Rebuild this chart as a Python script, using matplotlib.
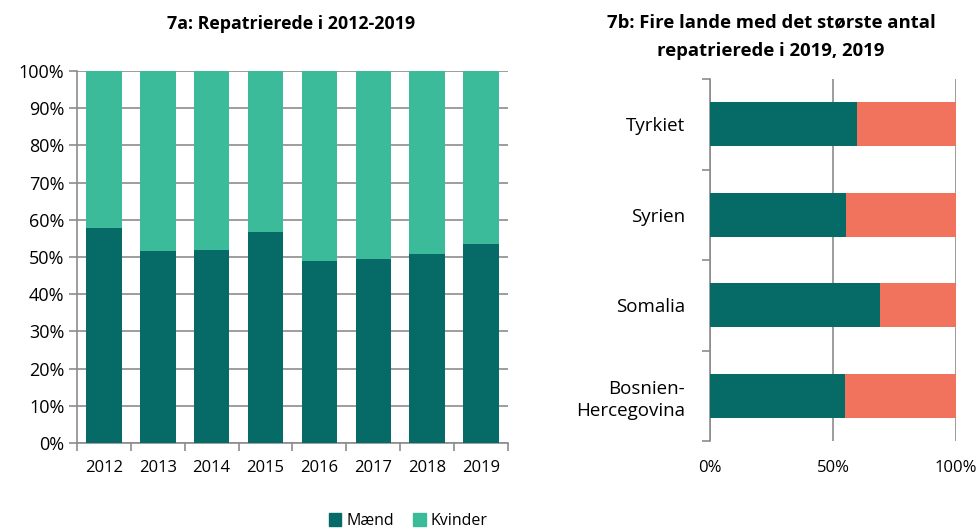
import matplotlib.pyplot as plt
from matplotlib.patches import Patch

plt.rcParams['font.family'] = ['Open Sans', 'DejaVu Sans']

years = ['2012', '2013', '2014', '2015', '2016', '2017', '2018', '2019']
maend_7a = [57.9, 51.6, 51.8, 56.7, 48.9, 49.4, 50.8, 53.5]
kvinder_7a = [100 - v for v in maend_7a]

lande = ['Bosnien-\nHercegovina', 'Somalia', 'Syrien', 'Tyrkiet']
maend_7b = [54.9, 69.1, 55.3, 59.8]
kvinder_7b = [100 - v for v in maend_7b]

dark = '#066b67'
light = '#3cbb9b'
salmon = '#f2735d'
grid = '#8c8c8c'

fig = plt.figure(figsize=(9.78, 5.29), dpi=100)

# 7a
ax = fig.add_axes([77 / 978, 1 - 443 / 529, 431 / 978, 372 / 529])
x = range(len(years))
ax.bar(x, maend_7a, width=0.66, color=dark, zorder=3)
ax.bar(x, kvinder_7a, bottom=maend_7a, width=0.66, color=light, zorder=3)
ax.set_xlim(-0.5, len(years) - 0.5)
ax.set_ylim(0, 100)
ax.set_yticks(range(0, 101, 10))
ax.set_yticklabels([f'{v}%' for v in range(0, 101, 10)], fontsize=13)
ax.set_xticks([i - 0.5 for i in range(len(years) + 1)])
ax.set_xticklabels([])
ax.set_xticks(list(x), minor=True)
ax.set_xticklabels(years, minor=True, fontsize=12)
ax.tick_params(axis='x', which='minor', length=0, pad=12)
ax.tick_params(axis='x', which='major', length=6, color=grid, width=1.2)
ax.tick_params(axis='y', length=6, color=grid, width=1.2, pad=3)
ax.grid(axis='y', color=grid, linewidth=1.2, zorder=0)
for s in ['top', 'right']:
    ax.spines[s].set_visible(False)
for s in ['left', 'bottom']:
    ax.spines[s].set_color(grid)
    ax.spines[s].set_linewidth(1.2)
fig.text(291 / 978, 1 - 24 / 529, '7a: Repatrierede i 2012-2019', ha='center', va='center',
         fontsize=12.8, fontweight='bold')

# 7b
bx = fig.add_axes([710 / 978, 1 - 441 / 529, 246 / 978, 362 / 529])
y = range(len(lande))
bx.barh(y, maend_7b, height=0.49, color=dark, zorder=3)
bx.barh(y, kvinder_7b, left=maend_7b, height=0.49, color=salmon, zorder=3)
bx.set_xlim(0, 100)
bx.set_ylim(-0.5, len(lande) - 0.5)
bx.set_xticks([0, 50, 100])
bx.set_xticklabels(['0%', '50%', '100%'], fontsize=12)
bx.tick_params(axis='x', length=0, pad=14)
bx.set_yticks([i - 0.5 for i in range(len(lande) + 1)])
bx.set_yticklabels([])
bx.set_yticks(list(y), minor=True)
bx.set_yticklabels(lande, minor=True, fontsize=13.5, ha='right', linespacing=1.3)
bx.tick_params(axis='y', which='minor', length=0, pad=18)
bx.tick_params(axis='y', which='major', length=6, color=grid, width=1.2)
bx.grid(axis='x', color=grid, linewidth=1.2, zorder=0)
for s in ['top', 'right', 'bottom']:
    bx.spines[s].set_visible(False)
bx.spines['left'].set_color(grid)
bx.spines['left'].set_linewidth(1.2)
fig.text(771 / 978, 1 - 23 / 529, '7b: Fire lande med det største antal', ha='center', va='center',
         fontsize=13.3, fontweight='bold')
fig.text(771 / 978, 1 - 51 / 529, 'repatrierede i 2019, 2019', ha='center', va='center',
         fontsize=13.3, fontweight='bold')

handles = [Patch(color=dark, label='Mænd'), Patch(color=light, label='Kvinder')]
fig.legend(handles=handles, loc='center', bbox_to_anchor=(408 / 978, 1 - 521 / 529), ncol=2,
           frameon=False, fontsize=11.5, handlelength=0.8, handleheight=0.8, handletextpad=0.3,
           columnspacing=1.2)

fig.savefig('out.png', dpi=100)
